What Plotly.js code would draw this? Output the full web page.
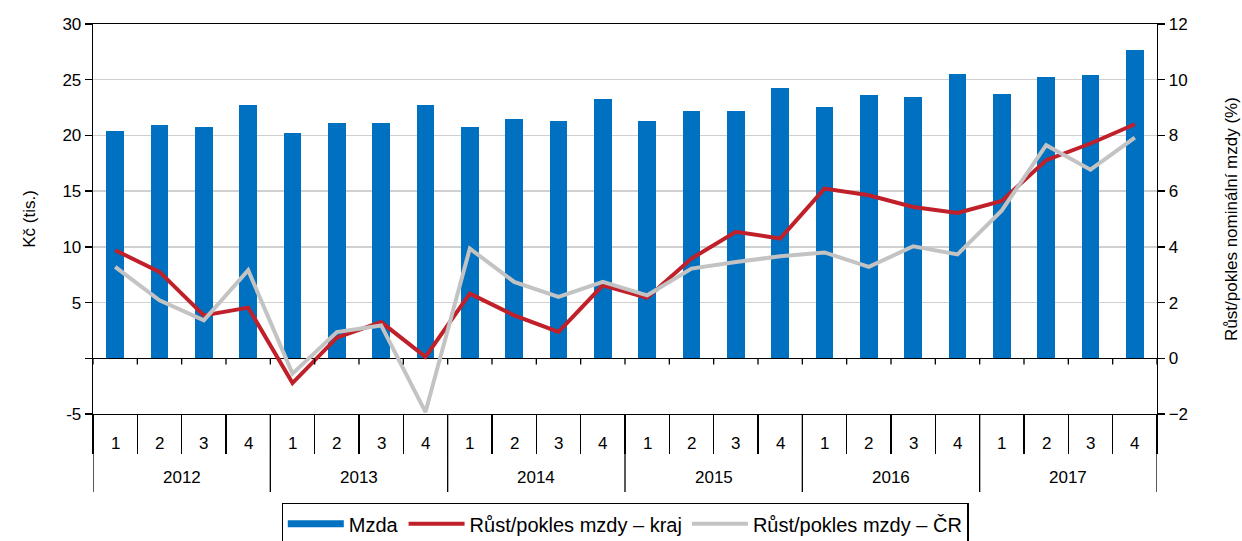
<!DOCTYPE html>
<html>
<head>
<meta charset="utf-8">
<script src="https://cdn.plot.ly/plotly-3.0.1.min.js"></script>
<style>html,body{margin:0;padding:0;background:#fff;}#chart{width:1242px;height:541px;}</style>
</head>
<body>
<div id="chart"></div>
<script>
const years = ["2012","2013","2014","2015","2016","2017"];
const quarters = ["1","2","3","4"];
const mzda = [20.4,20.95,20.8,22.7, 20.2,21.1,21.1,22.7, 20.8,21.5,21.3,23.25, 21.3,22.2,22.2,24.3, 22.55,23.6,23.45,25.55, 23.75,25.2,25.4,27.7];
const rustKraj = [3.88,3.1,1.54,1.82, -0.89,0.74,1.3,0.05, 2.32,1.54,0.95,2.62, 2.17,3.58,4.54,4.3, 6.09,5.85,5.43,5.22, 5.65,7.11,7.71,8.4];
const rustCR = [3.28,2.08,1.36,3.16, -0.55,0.94,1.18,-1.93, 3.94,2.74,2.2,2.74, 2.26,3.22,3.46,3.66, 3.8,3.28,4.02,3.73, 5.31,7.65,6.77,7.92];
const seriesNames = ["Mzda","Růst/pokles mzdy – kraj","Růst/pokles mzdy – ČR"];
const leftTicks = [-5,0,5,10,15,20,25,30];
const leftTickText = ["-5","","5","10","15","20","25","30"];

const n = mzda.length;
const idx = mzda.map((_, i) => i);
const FONT = "Liberation Sans, Arial, sans-serif";
const fs = 17;
const BLUE = "#0070C0", RED = "#C0202A", GRAY = "#C3C3C3";

const traces = [
  {type:"bar", x: idx, y: mzda, name: seriesNames[0], marker:{color:BLUE}, width:0.4, yaxis:"y", showlegend:false, legendgroup:"m"},
  // legend entry for the bars, drawn as a thick swatch like the reference
  {type:"scatter", mode:"lines", x:[null], y:[null], name: seriesNames[0], line:{color:BLUE, width:7}, yaxis:"y", legendgroup:"m"},
  {type:"scatter", mode:"lines", x: idx, y: rustKraj, name: seriesNames[1], line:{color:RED, width:4}, yaxis:"y2"},
  {type:"scatter", mode:"lines", x: idx, y: rustCR, name: seriesNames[2], line:{color:GRAY, width:4}, yaxis:"y2"}
];

const boundaries = [];
for (let i = 0; i <= n; i++) boundaries.push(i - 0.5);

const shapes = [];
boundaries.forEach(b => {
  shapes.push({type:"line", xref:"x", yref:"y", x0:b, x1:b, y0:0, y1:-0.55, line:{color:"#000", width:1.3}});
});
for (let yI = 0; yI <= years.length; yI++) {
  const b = yI * quarters.length - 0.5;
  shapes.push({type:"line", xref:"x", yref:"paper", x0:b, x1:b, y0:0, y1:-0.2, line:{color:"#000", width:1.3}});
}

const annotations = [];
idx.forEach(i => {
  annotations.push({xref:"x", yref:"paper", x:i, y:-0.076, text: quarters[i % quarters.length], showarrow:false, yanchor:"middle", font:{family:FONT, size:fs, color:"#000"}});
});
years.forEach((yr, k) => {
  annotations.push({xref:"x", yref:"paper", x: k*quarters.length + 1.5, y:-0.162, text: yr, showarrow:false, yanchor:"middle", font:{family:FONT, size:fs, color:"#000"}});
});

const layout = {
  width:1242, height:541,
  margin:{l:93, r:85, t:24, b:127, autoexpand:false},
  paper_bgcolor:"#fff", plot_bgcolor:"#fff",
  font:{family:FONT, size:fs, color:"#000"},
  showlegend:true,
  bargap:0,
  xaxis:{type:"linear", range:[-0.5, n-0.5], tickvals: boundaries, ticktext: boundaries.map(()=>""), showticklabels:false,
         ticks:"outside", ticklen:39, tickwidth:1.3, tickcolor:"#000", showgrid:false, zeroline:false,
         showline:true, linecolor:"#000", linewidth:1.3, mirror:true, fixedrange:true},
  yaxis:{range:[-5,30], tickvals:leftTicks, ticktext:leftTickText, ticks:"outside", ticklen:7, tickwidth:1.3, tickcolor:"#000",
         showgrid:true, gridcolor:"#D0D0D0", gridwidth:1.5, zeroline:true, zerolinecolor:"#000", zerolinewidth:1.5,
         showline:true, linecolor:"#000", linewidth:1.3,
         title:{text:"Kč (tis.)", font:{family:FONT, size:fs}, standoff:22}, tickfont:{family:FONT, size:fs}},
  yaxis2:{range:[-2,12], dtick:2, tick0:0, overlaying:"y", side:"right", anchor:"x", ticks:"outside", ticklen:7, tickwidth:1.3, tickcolor:"#000",
          showgrid:false, zeroline:false, showline:true, linecolor:"#000", linewidth:1.3,
          title:{text:"Růst/pokles nominální mzdy (%)", font:{family:FONT, size:fs}, standoff:38}, tickfont:{family:FONT, size:fs}},
  legend:{orientation:"h", x:0.5, xanchor:"center", y:-0.228, yanchor:"top", bordercolor:"#000", borderwidth:1.3,
          font:{family:FONT, size:20}, traceorder:"normal", itemwidth:56},
  shapes: shapes,
  annotations: annotations
};

Plotly.newPlot("chart", traces, layout, {displayModeBar:false, staticPlot:true});
</script>
</body>
</html>
